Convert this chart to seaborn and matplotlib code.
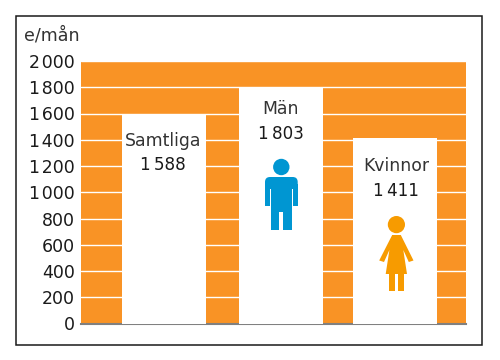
import matplotlib
matplotlib.use("Agg")
import matplotlib.pyplot as plt
import pandas as pd
import seaborn as sns
from matplotlib.patches import Circle, Polygon, Rectangle, FancyBboxPatch

groups = ["Samtliga", "Män", "Kvinnor"]
values = [1588, 1803, 1411]
value_labels = ["1\u2009588", "1\u2009803", "1\u2009411"]
ticks = [0, 200, 400, 600, 800, 1000, 1200, 1400, 1600, 1800, 2000]
tick_labels = ["0", "200", "400", "600", "800", "1\u200a000", "1\u200a200", "1\u200a400", "1\u200a600", "1\u200a800", "2\u200a000"]

ORANGE = "#F99325"
BLUE = "#0096D2"
WOMAN = "#F79B00"

sns.set_style("white")
plt.rcParams["font.family"] = ["DejaVu Sans"]

df = pd.DataFrame({"group": groups, "value": values})

fig = plt.figure(figsize=(5, 3.6), dpi=100)
fig.patch.set_facecolor("white")

# pixel overlay for the frame
ov = fig.add_axes([0, 0, 1, 1], zorder=0)
ov.set_xlim(0, 500)
ov.set_ylim(360, 0)
ov.axis("off")
ov.add_patch(Rectangle((15.5, 15.5), 466, 329, fill=False, ec="#1a1a1a", lw=1.1))

ax = fig.add_axes([81 / 500, (360 - 323.5) / 360, 385 / 500, 262.5 / 360], zorder=1)
ax.set_facecolor(ORANGE)
sns.barplot(data=df, x="group", y="value", color="white", saturation=1, width=0.727, ax=ax, zorder=3)
for b in ax.patches:
    b.set_edgecolor("none")
# the middle bar sits a little right of the even spacing
ax.patches[1].set_x(ax.patches[1].get_x() + 0.013)
ax.set_xlim(-0.719, 2.615)
ax.set_ylim(0, 2000)
ax.set_yticks(ticks)
ax.set_yticklabels(tick_labels, fontsize=12.5, color="#1a1a1a")
ax.set_xticks([])
ax.set_xlabel("")
ax.set_ylabel("")
ax.grid(axis="y", color="white", lw=1.0, zorder=1)
ax.set_axisbelow(True)
ax.tick_params(axis="y", length=0, pad=4.5)
sns.despine(ax=ax, left=True, top=True, right=True)
ax.spines["bottom"].set_color("#808080")
ax.spines["bottom"].set_linewidth(1.5)

fig.text(24 / 500, 1 - 36 / 360, "e/mån", fontsize=12.6, color="#333333", va="center")

# labels and icons on top of everything, in pixels
top = fig.add_axes([0, 0, 1, 1], zorder=2)
top.set_xlim(0, 500)
top.set_ylim(360, 0)
top.axis("off")

label_x = [163, 281, 396]
name_y = [141, 109, 166]
value_y = [165, 134, 191]
for i in range(3):
    top.text(label_x[i], name_y[i], groups[i], ha="center", va="center", fontsize=12.4, color="#333333")
    top.text(label_x[i], value_y[i], value_labels[i], ha="center", va="center", fontsize=12.1, color="#1a1a1a")

top.add_patch(Circle((281.3, 167), 8.2, fc=BLUE, ec="none"))
top.add_patch(FancyBboxPatch((265, 177), 32.7, 12, boxstyle="round,pad=0,rounding_size=5", fc=BLUE, ec="none"))
top.add_patch(Rectangle((265, 184), 32.7, 5, fc=BLUE, ec="none"))
top.add_patch(Rectangle((265, 189), 5, 16.5, fc=BLUE, ec="none"))
top.add_patch(Rectangle((292.7, 189), 5, 16.5, fc=BLUE, ec="none"))
top.add_patch(Rectangle((270.8, 189), 20.9, 23, fc=BLUE, ec="none"))
top.add_patch(Rectangle((270.8, 212), 8.6, 18, fc=BLUE, ec="none"))
top.add_patch(Rectangle((282.8, 212), 8.9, 18, fc=BLUE, ec="none"))

top.add_patch(Circle((396.4, 224.6), 8.6, fc=WOMAN, ec="none"))
top.add_patch(Polygon([(392.2, 235), (400.8, 235), (413.5, 260.5), (408.8, 262), (403.3, 250), (407, 274),
                       (385.7, 274), (389.4, 250), (384, 262), (379.2, 260.5)], fc=WOMAN, ec="none"))
top.add_patch(Rectangle((389.3, 274), 5.7, 17, fc=WOMAN, ec="none"))
top.add_patch(Rectangle((398, 274), 5.7, 17, fc=WOMAN, ec="none"))

fig.savefig("out.png", dpi=100)
